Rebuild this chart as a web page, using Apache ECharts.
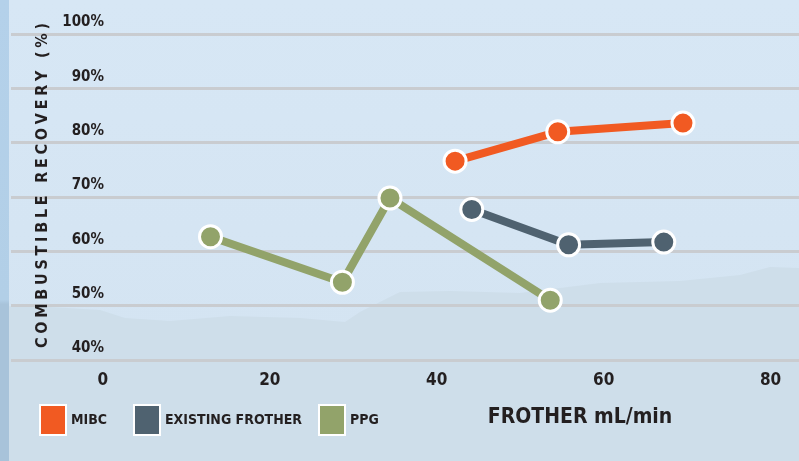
<!DOCTYPE html>
<html>
<head>
<meta charset="utf-8">
<script src="https://cdn.jsdelivr.net/npm/echarts@6/dist/echarts.min.js"></script>
<style>
  html, body { margin: 0; padding: 0; }
  #chart { width: 799px; height: 461px; }
</style>
</head>
<body>
<div id="chart"></div>
<script>
// data: [frother mL/min, recovery %]
const mibc = [[42.2, 76.6], [54.5, 82.0], [69.5, 83.6]];
const existingFrother = [[44.2, 67.7], [55.8, 61.2], [67.2, 61.7]];
const ppg = [[12.9, 62.7], [28.7, 54.3], [34.4, 69.8], [53.6, 51.0]];
const seriesNames = ['MIBC', 'EXISTING FROTHER', 'PPG'];
const xTicks = [0, 20, 40, 60, 80];
const yTitle = 'COMBUSTIBLE RECOVERY (%)';
const xTitle = 'FROTHER mL/min';

const FONT = "'Liberation Sans Narrow', 'DejaVu Sans Condensed', sans-serif";
const INK = '#231f20';
const colors = ['#f15a22', '#4f6270', '#92a36a'];

let myChart = echarts.init(document.getElementById('chart'));

function lineSeries(name, data, color) {
    return {
        name: name,
        type: 'line',
        data: data,
        symbol: 'circle',
        symbolSize: 22,
        lineStyle: { width: 8, color: color },
        itemStyle: { color: color, borderColor: '#fff', borderWidth: 3 },
        emphasis: { disabled: true }
    };
}

// letter-spaced vertical axis title, laid out letter by letter (bottom to top)
const titleFont = 'bold 16px ' + FONT;
const ctx = document.createElement('canvas').getContext('2d');
ctx.font = titleFont;
const widths = Array.from(yTitle).map(c => ctx.measureText(c).width);
const titleBottom = 348, titleTop = 23;
const gap = (titleBottom - titleTop - widths.reduce((a, b) => a + b, 0)) / (yTitle.length - 1);
let titleLetters = [];
let pos = titleBottom;
for (let i = 0; i < yTitle.length; i++) {
    titleLetters.push({
        type: 'text', silent: true, z: 50,
        x: 43, y: pos - widths[i] / 2, rotation: Math.PI / 2,
        style: {
            text: yTitle[i],
            fill: INK,
            font: titleFont,
            align: 'center',
            verticalAlign: 'middle'
        }
    });
    pos -= widths[i] + gap;
}

// one legend per item so each square sits where it does in the picture
const legendLefts = [34, 128, 313];
const legends = seriesNames.map((n, i) => ({
    data: [n],
    left: legendLefts[i],
    top: 399,
    icon: 'rect',
    itemWidth: 26,
    itemHeight: 30,
    selectedMode: false,
    textStyle: { color: INK, fontSize: 14, fontWeight: 'bold', fontFamily: FONT }
}));

const option = {
    animation: false,
    color: colors,
    graphic: [
        // sky background
        {
            type: 'rect', z: -100, silent: true,
            shape: { x: 0, y: 0, width: 799, height: 461 },
            style: {
                fill: new echarts.graphic.LinearGradient(0, 0, 0, 1, [
                    { offset: 0, color: '#d7e7f5' },
                    { offset: 1, color: '#d3e3f1' }
                ])
            }
        },
        // hazy hills
        {
            type: 'polygon', z: -99, silent: true,
            shape: {
                points: [[0, 306], [50, 307], [100, 310], [125, 318], [170, 321], [230, 316],
                         [300, 318], [345, 322], [360, 312], [400, 292], [450, 291],
                         [520, 293], [560, 288], [600, 283], [680, 281], [740, 275],
                         [770, 267], [799, 268], [799, 461], [0, 461]]
            },
            style: { fill: '#cedeea' }
        },
        // left strip
        {
            type: 'rect', z: -98, silent: true,
            shape: { x: 0, y: 0, width: 9, height: 461 },
            style: {
                fill: new echarts.graphic.LinearGradient(0, 0, 0, 1, [
                    { offset: 0, color: '#b4d1ea' },
                    { offset: 0.65, color: '#b2cfe7' },
                    { offset: 0.66, color: '#a8c3da' },
                    { offset: 1, color: '#a8c3da' }
                ])
            }
        },
        ...titleLetters,
        {
            type: 'text', silent: true, z: 50,
            x: 580, y: 418,
            style: {
                text: xTitle,
                fill: INK,
                font: 'bold 21px ' + FONT,
                align: 'center',
                verticalAlign: 'middle'
            }
        }
    ],
    legend: legends,
    grid: { left: 11, right: 0, top: 34, bottom: 101, containLabel: false },
    xAxis: {
        type: 'value',
        min: -11,
        max: 83.4,
        axisLine: { show: false },
        axisTick: { show: false },
        splitLine: { show: false },
        axisLabel: {
            customValues: xTicks,
            margin: 12,
            color: INK,
            fontSize: 17,
            fontWeight: 'bold',
            fontFamily: FONT
        }
    },
    yAxis: {
        type: 'value',
        min: 40,
        max: 100,
        interval: 10,
        axisLine: { show: false },
        axisTick: { show: false },
        splitLine: { lineStyle: { color: '#c9ccd0', width: 3 } },
        axisLabel: {
            inside: true,
            margin: 93,
            align: 'right',
            verticalAlign: 'bottom',
            padding: [0, 0, 4, 0],
            formatter: '{value}%',
            color: INK,
            fontSize: 15,
            fontWeight: 'bold',
            fontFamily: FONT
        }
    },
    series: [
        lineSeries(seriesNames[0], mibc, colors[0]),
        lineSeries(seriesNames[1], existingFrother, colors[1]),
        lineSeries(seriesNames[2], ppg, colors[2])
    ]
};

myChart.setOption(option);
</script>
</body>
</html>
